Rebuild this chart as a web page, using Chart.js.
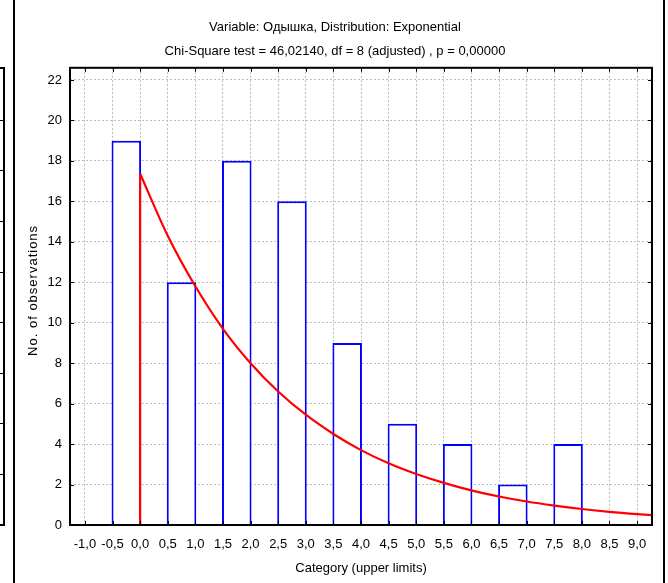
<!DOCTYPE html>
<html>
<head>
<meta charset="utf-8">
<script src="https://cdn.jsdelivr.net/npm/chart.js@4/dist/chart.umd.min.js"></script>
<style>
  html, body { margin: 0; padding: 0; background: #ffffff; }
  #wrap { position: relative; width: 668px; height: 583px; }
</style>
</head>
<body>
<div id="wrap"><canvas id="c" width="668" height="583"></canvas></div>
<script>
// ---- Data ----
const titleLines = [
  "Variable: Одышка, Distribution: Exponential",
  "Chi-Square test = 46,02140, df = 8 (adjusted) , p = 0,00000"
];
const xTitle = "Category (upper limits)";
const yTitle = "No. of observations";

// histogram bins: upper limits and observed counts (each bin 0.5 wide)
const binUpper = [0.0, 1.0, 2.0, 3.0, 4.0, 5.0, 6.0, 7.0, 8.0];
const binCounts = [19, 12, 18, 16, 9, 5, 4, 2, 4];
const binWidth = 0.5;

// fitted exponential (expected frequencies)
const curveX = [0.0, 0.5, 1.0, 1.5, 2.0, 2.5, 3.0, 3.5, 4.0, 4.5, 5.0, 5.5, 6.0, 6.5, 7.0, 7.5, 8.0, 8.5, 9.0, 9.5];
const curveY = [17.36, 14.3, 11.8, 9.7, 8.0, 6.6, 5.45, 4.5, 3.7, 3.05, 2.52, 2.08, 1.71, 1.41, 1.16, 0.96, 0.79, 0.65, 0.54, 0.45];

// axis ticks
const xTicks = [-1.0, -0.5, 0.0, 0.5, 1.0, 1.5, 2.0, 2.5, 3.0, 3.5, 4.0, 4.5, 5.0, 5.5, 6.0, 6.5, 7.0, 7.5, 8.0, 8.5, 9.0];
const yTicks = [0, 2, 4, 6, 8, 10, 12, 14, 16, 18, 20, 22];
const xRange = [-1.27, 9.27];
const yRange = [0, 22.6];

// ---- Build datasets ----
const barData = binUpper.map((u, i) => ({ x: u - binWidth / 2, y: binCounts[i] }));
const curveData = curveX.map((x, i) => ({ x: x, y: curveY[i] }));
const riseData = [{ x: curveX[0], y: 0 }, { x: curveX[0], y: curveY[0] }];

const FONT = "'Liberation Sans', Arial, sans-serif";
const fmt = v => v.toFixed(1).replace('.', ',').replace('-0,0', '0,0');

const framePlugin = {
  id: 'frame',
  beforeDraw(chart) {
    const ctx = chart.ctx;
    ctx.save();
    ctx.fillStyle = '#ffffff';
    ctx.fillRect(0, 0, chart.width, chart.height);
    ctx.strokeStyle = '#000000';
    ctx.lineWidth = 2;
    // outer frame verticals
    ctx.beginPath();
    ctx.moveTo(14, 0); ctx.lineTo(14, 583);
    ctx.moveTo(664, 0); ctx.lineTo(664, 583);
    ctx.stroke();
    // partial neighbouring panel at the left edge
    ctx.beginPath();
    ctx.moveTo(0, 68); ctx.lineTo(4, 68); ctx.lineTo(4, 525); ctx.lineTo(0, 525);
    ctx.stroke();
    ctx.lineWidth = 1;
    ctx.beginPath();
    [120, 170, 221, 272, 322, 373, 423, 474].forEach(y => { ctx.moveTo(0, y + 0.5); ctx.lineTo(4, y + 0.5); });
    ctx.stroke();
    ctx.restore();
  },
  afterDatasetsDraw(chart) {
    const ctx = chart.ctx;
    const a = chart.chartArea;
    const xs = chart.scales.x, ys = chart.scales.y;
    ctx.save();
    ctx.strokeStyle = '#000000';
    ctx.lineWidth = 1;
    ctx.beginPath();
    xs.ticks.forEach(t => {
      const px = Math.round(xs.getPixelForValue(t.value)) + 0.5;
      ctx.moveTo(px, a.top); ctx.lineTo(px, a.top + 4);
      ctx.moveTo(px, a.bottom); ctx.lineTo(px, a.bottom - 4);
    });
    ys.ticks.forEach(t => {
      const py = Math.round(ys.getPixelForValue(t.value)) + 0.5;
      ctx.moveTo(a.left, py); ctx.lineTo(a.left + 4, py);
      ctx.moveTo(a.right, py); ctx.lineTo(a.right - 4, py);
    });
    ctx.stroke();
    ctx.lineWidth = 2;
    ctx.strokeRect(a.left, a.top, a.right - a.left, a.bottom - a.top);
    // y axis title, slightly letter-spaced as in the reference
    ctx.fillStyle = '#000000';
    ctx.font = "13px " + FONT;
    ctx.translate(33, (a.top + a.bottom) / 2 - 6);
    ctx.rotate(-Math.PI / 2);
    ctx.textAlign = 'center';
    ctx.textBaseline = 'middle';
    try { ctx.letterSpacing = '1px'; } catch (e) {}
    ctx.fillText(yTitle, 0, 0);
    ctx.restore();
  }
};

new Chart(document.getElementById('c'), {
  data: {
    datasets: [
      {
        type: 'line',
        data: riseData,
        borderColor: '#ff0000',
        borderWidth: 2.2,
        pointRadius: 0,
        order: 1
      },
      {
        type: 'line',
        data: curveData,
        borderColor: '#ff0000',
        borderWidth: 2.2,
        pointRadius: 0,
        cubicInterpolationMode: 'monotone',
        order: 0
      },
      {
        type: 'bar',
        data: barData,
        backgroundColor: '#ffffff',
        borderColor: '#0000ff',
        borderWidth: 2,
        barPercentage: 1.07,
        categoryPercentage: 1.0,
        order: 2
      }
    ]
  },
  options: {
    responsive: false,
    animation: false,
    events: [],
    layout: { padding: { left: 18, right: 16, top: 0, bottom: 0 } },
    plugins: {
      legend: { display: false },
      tooltip: { enabled: false },
      title: {
        display: true,
        text: titleLines,
        color: '#000000',
        font: { family: FONT, size: 13, weight: 'normal', lineHeight: 1.8 },
        padding: { top: 16, bottom: 5 }
      }
    },
    scales: {
      x: {
        type: 'linear',
        offset: false,
        min: xRange[0],
        max: xRange[1],
        afterBuildTicks: s => { s.ticks = xTicks.map(v => ({ value: v })); },
        afterFit: s => { s.height = 58; },
        ticks: {
          autoSkip: false,
          maxRotation: 0,
          padding: 12,
          color: '#000000',
          font: { family: FONT, size: 13 },
          callback: v => fmt(v)
        },
        grid: { color: '#bdbdbd', lineWidth: 1, drawTicks: false, offset: false },
        border: { display: false, dash: [2, 2] },
        title: {
          display: true,
          text: xTitle,
          color: '#000000',
          font: { family: FONT, size: 13 },
          padding: { top: 0, bottom: 7 }
        }
      },
      y: {
        type: 'linear',
        min: yRange[0],
        max: yRange[1],
        afterBuildTicks: s => { s.ticks = yTicks.map(v => ({ value: v })); },
        afterFit: s => { s.width = 52; },
        ticks: {
          autoSkip: false,
          padding: 8,
          color: '#000000',
          font: { family: FONT, size: 13 },
          callback: v => String(v)
        },
        grid: { color: '#bdbdbd', lineWidth: 1, drawTicks: false },
        border: { display: false, dash: [2, 2] }
      }
    }
  },
  plugins: [framePlugin]
});
</script>
</body>
</html>
